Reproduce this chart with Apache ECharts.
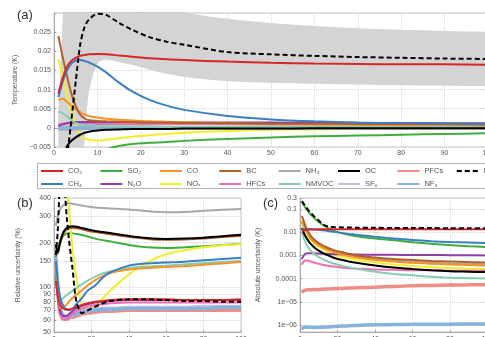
<!DOCTYPE html>
<html>
<head>
<meta charset="utf-8">
<script src="https://cdn.jsdelivr.net/npm/echarts@6/dist/echarts.min.js"></script>
<style>
html, body { margin: 0; padding: 0; background: #fff; }
#chart { width: 485px; height: 337px; }
</style>
</head>
<body>
<div id="chart"></div>
<script>
// years after emission
const years = [1, 2, 3, 4, 5, 6, 7, 8, 10, 12, 15, 18, 22, 26, 30, 40, 50, 60, 70, 80, 90, 100];

// (a) temperature response (K)
const co2A = [0.009, 0.013, 0.016, 0.0175, 0.0183, 0.0188, 0.019, 0.0192, 0.0193, 0.0192, 0.0189, 0.0186, 0.0182, 0.0179, 0.0177, 0.0173, 0.017, 0.0168, 0.0167, 0.0166, 0.0166, 0.0165];
const ch4A = [0.008, 0.012, 0.015, 0.0168, 0.0176, 0.0177, 0.0175, 0.0171, 0.016, 0.0145, 0.0118, 0.0095, 0.0073, 0.0058, 0.0047, 0.0031, 0.0022, 0.0017, 0.0014, 0.0012, 0.0011, 0.001];
const so2A = [-0.06, -0.045, -0.035, -0.027, -0.021, -0.017, -0.014, -0.012, -0.0085, -0.0058, -0.0047, -0.0042, -0.0039, -0.0037, -0.0034, -0.0029, -0.0025, -0.0022, -0.002, -0.0018, -0.0016, -0.0014];
const n2oA = [0.0005, 0.0009, 0.0012, 0.0014, 0.0015, 0.0015, 0.0015, 0.0015, 0.0015, 0.0015, 0.0015, 0.0015, 0.0015, 0.0015, 0.0014, 0.0014, 0.0014, 0.0013, 0.0013, 0.0013, 0.0012, 0.0012];
const coA = [0.0072, 0.0076, 0.0068, 0.0058, 0.0049, 0.0041, 0.0035, 0.0031, 0.0027, 0.0024, 0.0021, 0.0019, 0.0017, 0.0016, 0.0015, 0.0012, 0.001, 0.0009, 0.0008, 0.0007, 0.0007, 0.0006];
const noxA = [0.018, 0.0135, 0.0085, 0.0045, 0.0012, -0.0018, -0.0027, -0.0031, -0.0033, -0.0031, -0.0027, -0.0023, -0.0019, -0.0016, -0.0013, -0.0008, -0.0005, -0.0004, -0.0003, -0.0003, -0.0002, -0.0002];
const bcA = [0.024, 0.0185, 0.0135, 0.009, 0.0057, 0.0035, 0.0025, 0.002, 0.0018, 0.0017, 0.0016, 0.0015, 0.0014, 0.0014, 0.0013, 0.0012, 0.0011, 0.0011, 0.001, 0.001, 0.001, 0.0009];
const hfcA = [0.0009, 0.0011, 0.0012, 0.0012, 0.0012, 0.0011, 0.0011, 0.0011, 0.001, 0.001, 0.001, 0.001, 0.001, 0.001, 0.001, 0.001, 0.0009, 0.0009, 0.0009, 0.0009, 0.0009, 0.0009];
const nh3A = [-0.0004, -0.0005, -0.0005, -0.0004, -0.0004, -0.0003, -0.0003, -0.0003, -0.0002, -0.0002, -0.0002, -0.0002, -0.0002, -0.0001, -0.0001, -0.0001, -0.0001, -0.0001, -0.0001, -0.0001, -0.0001, -0.0001];
const nmvocA = [0.0042, 0.0038, 0.003, 0.002, 0.0013, 0.0009, 0.0007, 0.0006, 0.0005, 0.0005, 0.0004, 0.0004, 0.0004, 0.0003, 0.0003, 0.0003, 0.0003, 0.0002, 0.0002, 0.0002, 0.0002, 0.0002];
const ocA = [-0.02, -0.009, -0.0048, -0.0034, -0.0025, -0.0018, -0.0013, -0.001, -0.0007, -0.0005, -0.0004, -0.0003, -0.0003, -0.0003, -0.0002, -0.0002, -0.0002, -0.0001, -0.0001, -0.0001, -0.0001, -0.0001];
const sf6A = [0.0002, 0.0002, 0.0002, 0.0002, 0.0002, 0.0002, 0.0002, 0.0002, 0.0002, 0.0002, 0.0002, 0.0002, 0.0002, 0.0002, 0.0002, 0.0002, 0.0002, 0.0002, 0.0002, 0.0002, 0.0002, 0.0002];
const pfcA = [0.0001, 0.0001, 0.0001, 0.0001, 0.0001, 0.0001, 0.0001, 0.0001, 0.0001, 0.0001, 0.0001, 0.0001, 0.0001, 0.0001, 0.0001, 0.0001, 0.0001, 0.0001, 0.0001, 0.0001, 0.0001, 0.0001];
const nf3A = [0.00005, 0.00005, 0.00005, 0.00005, 0.00005, 0.00005, 0.00005, 0.00005, 0.00005, 0.00005, 0.00005, 0.00005, 0.00005, 0.00005, 0.00005, 0.00005, 0.00005, 0.00005, 0.00005, 0.00005, 0.00005, 0.00005];
const netA = [-0.035, -0.02, -0.008, 0.002, 0.012, 0.0215, 0.0262, 0.0282, 0.0298, 0.0295, 0.0274, 0.0256, 0.0237, 0.0225, 0.0217, 0.0198, 0.0192, 0.0188, 0.0185, 0.0183, 0.0181, 0.018];
const bandUp = [0.002, 0.028, 0.045, 0.05, 0.052, 0.052, 0.051, 0.05, 0.047, 0.044, 0.04, 0.037, 0.034, 0.0318, 0.0302, 0.0285, 0.0274, 0.0266, 0.026, 0.0256, 0.0253, 0.0251];
const bandLow = [-0.07, -0.06, -0.045, -0.033, -0.022, -0.012, -0.004, 0.009, 0.0168, 0.0178, 0.0172, 0.0164, 0.0152, 0.0141, 0.0133, 0.0122, 0.0118, 0.0115, 0.0113, 0.0111, 0.011, 0.0109];

// (b) relative uncertainty (%)
const co2B = [110, 88, 78, 74, 72, 71, 71, 71, 72, 74, 76, 78, 80, 81, 82, 83, 83, 83, 82, 82, 82, 82];
const ch4B = [150, 110, 90, 80, 75, 72, 71, 70, 72, 77, 85, 95, 103, 116, 126, 140, 145, 147, 149, 152, 155, 158];
const so2B = [160, 178, 198, 212, 222, 228, 231, 232, 231, 229, 225, 220, 213, 208, 204, 193, 186, 184, 186, 189, 193, 197];
const n2oB = [130, 90, 72, 66, 64, 64, 64, 66, 69, 72, 75, 77, 79, 80, 81, 82, 82, 82, 82, 82, 82, 83];
const coB = [140, 95, 75, 72, 73, 75, 77, 80, 85, 89, 96, 103, 112, 119, 125, 132, 135, 137, 139, 142, 145, 148];
const noxB = [1500, 1200, 950, 750, 600, 500, 430, 340, 180, 115, 76, 71, 75, 84, 95, 122, 148, 167, 178, 186, 192, 196];
const bcB = [190, 170, 190, 212, 228, 240, 246, 250, 252, 250, 246, 241, 236, 232, 228, 219, 212, 209, 210, 213, 218, 222];
const hfcB = [120, 85, 68, 63, 61, 61, 61, 63, 66, 69, 72, 74, 76, 77, 78, 79, 79, 79, 79, 79, 79, 79];
const nh3B = [260, 300, 330, 348, 358, 365, 368, 368, 366, 362, 356, 350, 345, 342, 340, 335, 326, 321, 322, 328, 333, 337];
const nmvocB = [150, 100, 84, 83, 85, 87, 89, 91, 95, 99, 105, 111, 118, 124, 128, 135, 138, 140, 143, 146, 148, 151];
const ocB = [195, 172, 195, 218, 235, 246, 252, 256, 258, 256, 251, 246, 240, 236, 232, 222, 215, 212, 213, 216, 221, 226];
const sf6B = [155, 100, 76, 69, 66, 65, 65, 66, 67, 68, 70, 71, 72, 73, 73, 74, 74, 74, 74, 75, 75, 75];
const pfcB = [150, 95, 70, 63, 61, 61, 61, 62, 63, 64, 66, 67, 68, 69, 69, 70, 70, 70, 70, 70, 70, 70];
const nf3B = [160, 100, 75, 67, 64, 63, 63, 64, 65, 66, 68, 69, 70, 71, 71, 72, 72, 72, 72, 72, 73, 73];
const netB = [165, 240, 520, 3000, 900, 420, 280, 210, 130, 80, 67, 70, 74, 78, 81, 83, 83, 82, 81, 81, 80, 80];

// (c) absolute uncertainty (K)
const co2C = [0.011, 0.012, 0.0125, 0.0128, 0.013, 0.013, 0.0132, 0.0133, 0.0134, 0.0135, 0.0135, 0.0135, 0.0135, 0.0135, 0.0135, 0.0135, 0.0135, 0.0135, 0.0135, 0.0135, 0.0135, 0.0135];
const ch4C = [0.013, 0.0135, 0.0138, 0.0138, 0.0138, 0.0137, 0.0135, 0.0133, 0.0128, 0.0122, 0.0113, 0.0104, 0.0094, 0.0085, 0.0078, 0.0064, 0.0054, 0.0046, 0.0041, 0.0038, 0.0036, 0.0034];
const so2C = [0.2, 0.15, 0.11, 0.085, 0.068, 0.055, 0.046, 0.038, 0.028, 0.021, 0.015, 0.0115, 0.0092, 0.0078, 0.0068, 0.0054, 0.0045, 0.0037, 0.0032, 0.0028, 0.0025, 0.0023];
const n2oC = [0.0007, 0.001, 0.0012, 0.00125, 0.00125, 0.00124, 0.00123, 0.00122, 0.0012, 0.00118, 0.00116, 0.00114, 0.00112, 0.0011, 0.00109, 0.00107, 0.00106, 0.00105, 0.00104, 0.00103, 0.00102, 0.001];
const coC = [0.03, 0.02, 0.013, 0.009, 0.0065, 0.005, 0.0042, 0.0035, 0.0027, 0.0022, 0.0017, 0.0014, 0.0011, 0.00095, 0.00082, 0.00064, 0.00055, 0.00048, 0.00044, 0.00041, 0.00039, 0.00037];
const noxC = [0.025, 0.016, 0.011, 0.0078, 0.0058, 0.0045, 0.0037, 0.0031, 0.0024, 0.0019, 0.0014, 0.0011, 0.0009, 0.00075, 0.00065, 0.0005, 0.00041, 0.00035, 0.00031, 0.00029, 0.00027, 0.00026];
const bcC = [0.05, 0.03, 0.018, 0.012, 0.0085, 0.0065, 0.0054, 0.0045, 0.0034, 0.0027, 0.0021, 0.0017, 0.0014, 0.0012, 0.001, 0.00082, 0.0007, 0.00063, 0.00058, 0.00055, 0.00052, 0.0005];
const hfcC = [0.0004, 0.00055, 0.0006, 0.0006, 0.00057, 0.00054, 0.00051, 0.00048, 0.00044, 0.0004, 0.00036, 0.00033, 0.0003, 0.00028, 0.00027, 0.00025, 0.00024, 0.00023, 0.00023, 0.00022, 0.00022, 0.00022];
const nh3C = [0.028, 0.019, 0.013, 0.0092, 0.0068, 0.0053, 0.0044, 0.0037, 0.0029, 0.0024, 0.0019, 0.0015, 0.0012, 0.001, 0.0009, 0.0007, 0.0006, 0.00053, 0.00048, 0.00045, 0.00043, 0.00042];
const nmvocC = [0.01, 0.0055, 0.0035, 0.0025, 0.0019, 0.0015, 0.0013, 0.0011, 0.00085, 0.0007, 0.00055, 0.00045, 0.00037, 0.00031, 0.00027, 0.0002, 0.00016, 0.00014, 0.00012, 0.00011, 0.000105, 0.0001];
const ocC = [0.015, 0.0095, 0.0065, 0.0048, 0.0037, 0.003, 0.0025, 0.0021, 0.0016, 0.0013, 0.001, 0.0008, 0.00065, 0.00055, 0.00048, 0.00037, 0.0003, 0.00026, 0.00023, 0.00021, 0.0002, 0.00019];
const sf6C = [6.3e-7, 7.8e-7, 8e-7, 7.9e-7, 7.8e-7, 7.8e-7, 7.7e-7, 7.7e-7, 7.8e-7, 7.9e-7, 8.1e-7, 8.4e-7, 8.8e-7, 9.1e-7, 9.4e-7, 1e-6, 1.03e-6, 1.05e-6, 1.06e-6, 1.07e-6, 1.08e-6, 1.08e-6];
const pfcC = [2.5e-5, 3e-5, 3.2e-5, 3.3e-5, 3.3e-5, 3.3e-5, 3.4e-5, 3.4e-5, 3.4e-5, 3.5e-5, 3.6e-5, 3.7e-5, 3.8e-5, 3.9e-5, 4e-5, 4.3e-5, 4.6e-5, 4.9e-5, 5.1e-5, 5.3e-5, 5.4e-5, 5.5e-5];
const nf3C = [6.5e-7, 8e-7, 8.2e-7, 8.1e-7, 8e-7, 8e-7, 7.9e-7, 7.9e-7, 8e-7, 8.1e-7, 8.3e-7, 8.6e-7, 9e-7, 9.3e-7, 9.6e-7, 1.02e-6, 1.05e-6, 1.07e-6, 1.08e-6, 1.09e-6, 1.1e-6, 1.1e-6];
const netC = [0.22, 0.17, 0.13, 0.1, 0.08, 0.065, 0.053, 0.045, 0.032, 0.022, 0.0175, 0.0168, 0.0163, 0.016, 0.0158, 0.0155, 0.0153, 0.0152, 0.0151, 0.015, 0.015, 0.015];

// tick labels
const bTicks = [50, 60, 70, 80, 90, 100, 150, 200, 300, 400];
const cTicks = [1e-6, 1e-5, 1e-4, 1e-3, 0.01, 0.1, 0.3];
const cTickLabels = ['1e−06', '1e−05', '0.0001', '0.001', '0.01', '0.1', '0.3'];

const species = [
    { name: 'SO₂', color: '#3fae3f', a: so2A, b: so2B, c: so2C },
    { name: 'NOₓ', color: '#f2ee2d', a: noxA, b: noxB, c: noxC },
    { name: 'NH₃', color: '#a8a8a8', a: nh3A, b: nh3B, c: nh3C },
    { name: 'SF₆', color: '#c4bde3', a: sf6A, b: sf6B, c: sf6C },
    { name: 'PFCs', color: '#f08c86', a: pfcA, b: pfcB, c: pfcC, w: 3.5 },
    { name: 'NF₃', color: '#86b3dc', a: nf3A, b: nf3B, c: nf3C, w: 3.5 },
    { name: 'HFCs', color: '#ec6fb4', a: hfcA, b: hfcB, c: hfcC },
    { name: 'N₂O', color: '#8e3fa5', a: n2oA, b: n2oB, c: n2oC },
    { name: 'NMVOC', color: '#86cdb0', a: nmvocA, b: nmvocB, c: nmvocC },
    { name: 'CO', color: '#f5922a', a: coA, b: coB, c: coC },
    { name: 'BC', color: '#b0602a', a: bcA, b: bcB, c: bcC },
    { name: 'OC', color: '#000000', a: ocA, b: ocB, c: ocC },
    { name: 'CH₄', color: '#3a7fc1', a: ch4A, b: ch4B, c: ch4C },
    { name: 'CO₂', color: '#d7262b', a: co2A, b: co2B, c: co2C },
    { name: 'Net', color: '#000000', a: netA, b: netB, c: netC, dash: true }
];

const legendCols = [['CO₂', 'CH₄'], ['SO₂', 'N₂O'], ['CO', 'NOₓ'], ['BC', 'HFCs'], ['NH₃', 'NMVOC'], ['OC', 'SF₆'], ['PFCs', 'NF₃'], ['Net']];

const FONT = 'Liberation Sans, Arial, sans-serif';
const labelStyle = { color: '#555', fontSize: 7, fontFamily: FONT };
const gridLine = { show: true, lineStyle: { color: '#d6d6d6', type: 'dotted', width: 1 } };
const axisLine = { show: true, lineStyle: { color: '#aaa' } };
const axisTick = { show: true, inside: true, length: 2, lineStyle: { color: '#999' } };

function pairs(values) {
    return years.map((t, i) => [t, values[i]]);
}

function lineSeries(s, idx, values) {
    return {
        name: s.name,
        type: 'line',
        xAxisIndex: idx,
        yAxisIndex: idx,
        data: pairs(values),
        symbol: 'none',
        smooth: 0.3,
        silent: true,
        z: s.dash ? 5 : 3,
        itemStyle: { color: s.color },
        lineStyle: { color: s.color, width: s.w || 2, type: s.dash ? [5, 3] : 'solid' }
    };
}

// uncertainty band of the net response: grey down from the upper edge,
// then white down from the lower edge, both under the grid lines
const series = [
    {
        name: 'bandUp', type: 'line', xAxisIndex: 0, yAxisIndex: 0, data: pairs(bandUp),
        symbol: 'none', smooth: 0.3, silent: true, z: -2,
        lineStyle: { opacity: 0 }, areaStyle: { color: '#d4d4d4', opacity: 1, origin: 'start' }
    },
    {
        name: 'bandLow', type: 'line', xAxisIndex: 0, yAxisIndex: 0, data: pairs(bandLow),
        symbol: 'none', smooth: 0.3, silent: true, z: -1,
        lineStyle: { opacity: 0 }, areaStyle: { color: '#ffffff', opacity: 1, origin: 'start' }
    }
];
species.forEach(s => series.push(lineSeries(s, 0, s.a)));
species.forEach(s => series.push(lineSeries(s, 1, s.b)));
species.forEach(s => series.push(lineSeries(s, 2, s.c)));

function cLabel(v) {
    let best = 0;
    cTicks.forEach((t, i) => {
        if (Math.abs(Math.log10(v / t)) < Math.abs(Math.log10(v / cTicks[best]))) best = i;
    });
    return cTickLabels[best];
}

const gridBase = { show: true, borderColor: '#c8c8c8', backgroundColor: 'transparent', outerBoundsMode: 'none', containLabel: false };

const chart = echarts.init(document.getElementById('chart'));
chart.setOption({
    animation: false,
    backgroundColor: '#fff',
    textStyle: { fontFamily: FONT },
    grid: [
        { ...gridBase, left: 54, top: 13, width: 434, height: 134 },
        { ...gridBase, left: 54, top: 198, width: 187, height: 134 },
        { ...gridBase, left: 300, top: 198, width: 187.5, height: 134 }
    ],
    xAxis: [
        { gridIndex: 0, type: 'value', min: 0, max: 100, interval: 10, axisLine, axisTick, splitLine: gridLine, axisLabel: { ...labelStyle, margin: 3 } },
        { gridIndex: 1, type: 'value', min: 0, max: 100, interval: 20, axisLine, axisTick, splitLine: gridLine, axisLabel: { ...labelStyle, margin: 4 } },
        { gridIndex: 2, type: 'value', min: 0, max: 100, interval: 20, axisLine, axisTick, splitLine: gridLine, axisLabel: { ...labelStyle, margin: 4 } }
    ],
    yAxis: [
        {
            gridIndex: 0, type: 'value', min: -0.005, max: 0.03, interval: 0.005,
            name: 'Temperature (K)', nameLocation: 'middle', nameGap: 32, nameRotate: 90,
            nameTextStyle: labelStyle, axisLine, axisTick, splitLine: gridLine,
            axisLabel: {
                ...labelStyle, margin: 3,
                formatter: v => Math.abs(v - 0.03) < 1e-9 ? '' : String(+v.toFixed(4)).replace('-', '−')
            }
        },
        {
            gridIndex: 1, type: 'log', logBase: 10, min: 50, max: 400,
            name: 'Relative uncertainty (%)', nameLocation: 'middle', nameGap: 32, nameRotate: 90,
            nameTextStyle: labelStyle, axisLine,
            axisTick: { ...axisTick, customValues: bTicks },
            splitLine: gridLine,
            axisLabel: { ...labelStyle, margin: 3, customValues: bTicks, formatter: v => String(Math.round(v)) }
        },
        {
            gridIndex: 2, type: 'log', logBase: 10, min: 5e-7, max: 0.3,
            name: 'Absolute uncertainty (K)', nameLocation: 'middle', nameGap: 38, nameRotate: 90,
            nameTextStyle: labelStyle, axisLine,
            axisTick: { ...axisTick, customValues: cTicks },
            splitLine: gridLine,
            axisLabel: { ...labelStyle, margin: 3, customValues: cTicks, formatter: cLabel }
        }
    ],
    legend: legendCols.map((col, i) => ({
        data: col,
        orient: 'vertical',
        left: 40 + i * 59.4,
        top: 167,
        itemWidth: 22,
        itemHeight: 6,
        itemGap: 5,
        padding: 0,
        selectedMode: false,
        itemStyle: { opacity: 0 },
        textStyle: { color: '#555', fontSize: 7.5, fontFamily: FONT, padding: [0, 0, 0, 0] }
    })),
    graphic: [
        { type: 'rect', shape: { x: 37.5, y: 163.5, width: 470, height: 25 }, style: { fill: 'none', stroke: '#b5b5b5', lineWidth: 1 }, silent: true },
        { type: 'text', left: 17, top: 9, style: { text: '(a)', fontSize: 13, fill: '#333', fontFamily: FONT } },
        { type: 'text', left: 17, top: 197, style: { text: '(b)', fontSize: 13, fill: '#333', fontFamily: FONT } },
        { type: 'text', left: 263, top: 197, style: { text: '(c)', fontSize: 13, fill: '#333', fontFamily: FONT } }
    ],
    series
});
</script>
</body>
</html>
